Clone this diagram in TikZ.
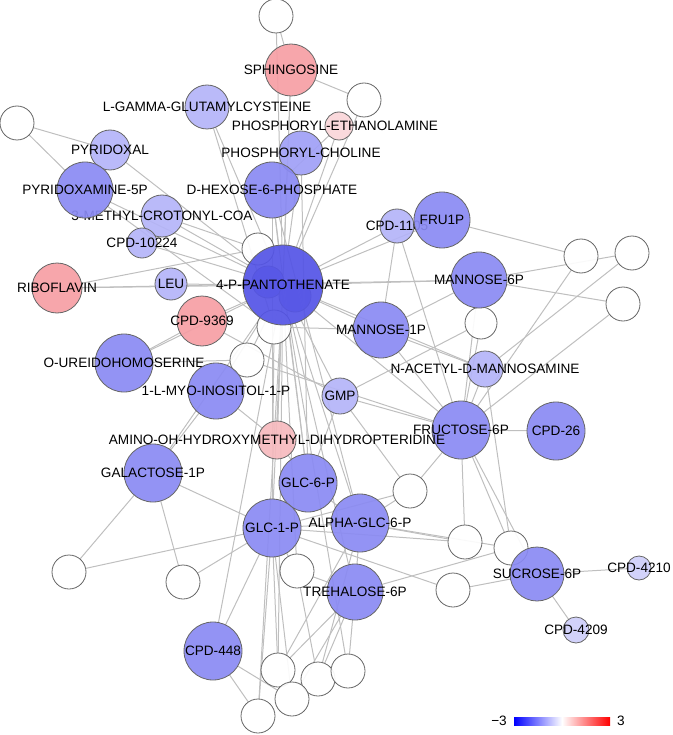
\documentclass[tikz,border=0pt]{standalone}
\usepackage{fontspec}
\setmainfont{Liberation Sans}
\usetikzlibrary{backgrounds}
\definecolor{nstrong}{RGB}{84,84,230}
\definecolor{nblue}{RGB}{138,138,243}
\definecolor{nmid}{RGB}{160,160,246}
\definecolor{nlight}{RGB}{180,180,248}
\definecolor{npale}{RGB}{206,206,250}
\definecolor{nred}{RGB}{246,158,164}
\definecolor{npink}{RGB}{246,186,190}
\definecolor{nblush}{RGB}{250,214,217}

\begin{document}
\begin{tikzpicture}[x=1pt,y=-1pt,
  met/.style={circle,draw=black!60,line width=0.8pt,fill=#1,fill opacity=0.92,inner sep=0pt,outer sep=0pt},
  lbl/.style={font=\fontsize{13.6}{16}\selectfont,text=black,text opacity=1,inner sep=0pt},
  link/.style={draw=black!25,line width=1pt}]
\useasboundingbox (0,0) rectangle (672,735);

% top
\node[met=white,minimum size=34pt] (wtop) at (276,16) {};
\node[met=nred,minimum size=52pt,label={[lbl]center:SPHINGOSINE}] (sphingosine) at (291,70) {};
\node[met=white,minimum size=34pt] (wsph) at (364,100) {};
\node[met=nlight,minimum size=44pt,label={[lbl]center:L-GAMMA-GLUTAMYLCYSTEINE}] (lgg) at (207,107) {};
\node[met=nblush,minimum size=28pt] (petha) at (339,126) {};
\node[lbl] (pethatxt) at (335,126) {PHOSPHORYL-ETHANOLAMINE};
\node[met=nmid,minimum size=44pt,label={[lbl]center:PHOSPHORYL-CHOLINE}] (pchol) at (301,153) {};
\node[met=nblue,minimum size=56pt,label={[lbl]center:D-HEXOSE-6-PHOSPHATE}] (dhex) at (272,190) {};

% left
\node[met=white,minimum size=34pt] (wleft) at (17,123) {};
\node[met=nlight,minimum size=40pt,label={[lbl]center:PYRIDOXAL}] (pyridoxal) at (110,150) {};
\node[met=nlight,minimum size=42pt,label={[lbl]center:3-METHYL-CROTONYL-COA}] (mcoa) at (162,216) {};
\node[met=nblue,minimum size=56pt,label={[lbl]center:PYRIDOXAMINE-5P}] (pyrid5p) at (85,190) {};
\node[met=nlight,minimum size=30pt,label={[lbl]center:CPD-10224}] (cpd10224) at (142,243) {};
\node[met=nred,minimum size=50pt,label={[lbl]center:RIBOFLAVIN}] (riboflavin) at (57,288) {};
\node[met=nlight,minimum size=32pt,label={[lbl]center:LEU}] (leu) at (171,284) {};

% centre
\node[met=white,minimum size=32pt] (wpa) at (258,249) {};
\node[met=nblue,minimum size=32pt] (hid1) at (268,282) {};
\node[met=nblue,minimum size=32pt] (hid2) at (295,296) {};
\node[met=white,minimum size=34pt] (wpb) at (274,327) {};
\node[met=nstrong,minimum size=80pt,label={[lbl]center:4-P-PANTOTHENATE}] (pant) at (283,285) {};
\node[met=nred,minimum size=50pt,label={[lbl]center:CPD-9369}] (cpd9369) at (202,321) {};
\node[met=white,minimum size=34pt] (wpc) at (247,360) {};
\node[met=nblue,minimum size=58pt,label={[lbl]center:O-UREIDOHOMOSERINE}] (oureido) at (124,363) {};
\node[met=nblue,minimum size=56pt,label={[lbl]center:1-L-MYO-INOSITOL-1-P}] (inositol) at (216,391) {};
\node[met=nlight,minimum size=36pt,label={[lbl]center:GMP}] (gmp) at (340,396) {};

% right
\node[met=nlight,minimum size=34pt,label={[lbl]center:CPD-1105}] (cpd1105) at (397,226) {};
\node[met=nblue,minimum size=56pt,label={[lbl]center:FRU1P}] (fru1p) at (442,220) {};
\node[met=white,minimum size=34pt] (wr1) at (581,256) {};
\node[met=white,minimum size=34pt] (wr2) at (632,253) {};
\node[met=white,minimum size=34pt] (wr3) at (623,304) {};
\node[met=white,minimum size=32pt] (wm) at (481,323) {};
\node[met=nblue,minimum size=56pt,label={[lbl]center:MANNOSE-6P}] (man6p) at (479,280) {};
\node[met=nblue,minimum size=56pt,label={[lbl]center:MANNOSE-1P}] (man1p) at (381,330) {};
\node[met=nlight,minimum size=36pt,label={[lbl]center:N-ACETYL-D-MANNOSAMINE}] (nacetyl) at (485,369) {};
\node[met=nblue,minimum size=58pt,label={[lbl]center:FRUCTOSE-6P}] (fru6p) at (461,430) {};
\node[met=nblue,minimum size=58pt,label={[lbl]center:CPD-26}] (cpd26) at (556,431) {};

% lower
\node[met=npink,minimum size=38pt,label={[lbl]center:AMINO-OH-HYDROXYMETHYL-DIHYDROPTERIDINE}] (amino) at (277,440) {};
\node[met=nblue,minimum size=58pt,label={[lbl]center:GALACTOSE-1P}] (galactose) at (153,473) {};
\node[met=nblue,minimum size=58pt,label={[lbl]center:GLC-6-P}] (glc6p) at (308,483) {};
\node[met=white,minimum size=34pt] (wg) at (410,491) {};
\node[met=white,minimum size=34pt] (wt) at (297,571) {};
\node[met=nblue,minimum size=58pt,label={[lbl]center:GLC-1-P}] (glc1p) at (272,528) {};
\node[met=nblue,minimum size=58pt,label={[lbl]center:ALPHA-GLC-6-P}] (alpha) at (360,523) {};
\node[met=white,minimum size=34pt] (wll) at (69,572) {};
\node[met=white,minimum size=34pt] (wlm) at (183,582) {};
\node[met=nblue,minimum size=56pt,label={[lbl]center:TREHALOSE-6P}] (trehalose) at (355,592) {};
\node[met=nblue,minimum size=58pt,label={[lbl]center:CPD-448}] (cpd448) at (213,651) {};
\node[met=white,minimum size=34pt] (wb1) at (278,670) {};
\node[met=white,minimum size=34pt] (wb3) at (318,679) {};
\node[met=white,minimum size=34pt] (wb4) at (348,671) {};
\node[met=white,minimum size=34pt] (wb2) at (292,699) {};
\node[met=white,minimum size=34pt] (wb5) at (258,716) {};
\node[met=white,minimum size=34pt] (ws1) at (465,542) {};
\node[met=white,minimum size=34pt] (ws3) at (453,590) {};
\node[met=white,minimum size=34pt] (ws2) at (511,548) {};
\node[met=nblue,minimum size=54pt,label={[lbl]center:SUCROSE-6P}] (sucrose) at (537,574) {};
\node[met=npale,minimum size=24pt,label={[lbl]center:CPD-4210}] (cpd4210) at (639,568) {};
\node[met=npale,minimum size=26pt,label={[lbl]center:CPD-4209}] (cpd4209) at (576,630) {};

% edges
\begin{scope}[on background layer]
\foreach \a/\b in {wtop/sphingosine,wtop/pant,sphingosine/wsph,sphingosine/pant,sphingosine/amino,
  wsph/pant,petha/pant,petha/dhex,lgg/pant,lgg/wpb,pchol/pant,pchol/glc6p,
  dhex/pant,dhex/glc1p,dhex/glc6p,dhex/alpha,pyridoxal/wleft,pyridoxal/pant,wleft/pyrid5p,
  pyrid5p/pant,pyrid5p/wpb,mcoa/pant,mcoa/wpa,cpd10224/pant,riboflavin/pant,riboflavin/wpa,
  riboflavin/man6p,leu/pant,cpd9369/pant,cpd9369/oureido,cpd9369/gmp,oureido/wpc,oureido/pant,
  wpc/pant,wpc/fru6p,inositol/pant,inositol/galactose,inositol/amino,galactose/wll,galactose/wlm,
  galactose/glc1p,galactose/pant,wll/glc1p,wlm/glc1p,cpd448/glc1p,cpd448/pant,cpd448/wb5,
  cpd448/wb2,cpd1105/pant,cpd1105/man1p,cpd1105/fru6p,fru1p/pant,fru1p/wr1,man6p/pant,
  man6p/wr2,man6p/wr3,man6p/wm,man6p/man1p,man6p/fru6p,wr1/fru6p,wr2/nacetyl,wr3/fru6p,
  wm/gmp,wm/fru6p,man1p/pant,man1p/nacetyl,man1p/fru6p,nacetyl/fru6p,nacetyl/ws2,nacetyl/pant,
  fru6p/cpd26,fru6p/gmp,fru6p/pant,fru6p/ws1,fru6p/ws2,fru6p/wg,fru6p/sucrose,gmp/pant,
  gmp/glc6p,gmp/wg,wg/alpha,wg/glc1p,amino/pant,amino/glc6p,glc6p/pant,glc6p/glc1p,glc6p/alpha,
  glc1p/pant,glc1p/alpha,glc1p/wt,glc1p/ws1,glc1p/ws3,glc1p/wb1,glc1p/wb5,glc1p/wb2,
  alpha/pant,alpha/ws1,alpha/ws2,alpha/trehalose,alpha/wb1,alpha/wb3,wt/trehalose,wt/pant,
  wt/wb3,trehalose/pant,trehalose/ws2,trehalose/wb1,trehalose/wb2,trehalose/wb3,trehalose/wb4,
  ws2/sucrose,ws3/sucrose,sucrose/cpd4210,sucrose/cpd4209,pant/wb4,pant/wb1,pant/wb5,
  wpa/pant,wpb/pant,wpb/glc1p,wpb/man1p}
  \draw[link] (\a) -- (\b);
\end{scope}

% colour key
\node[lbl] (kmin) at (499,721) {−3};
\shade[left color=blue,right color=white] (514,717) rectangle (562,725);
\shade[left color=white,right color=red] (562,717) rectangle (610,725);
\node[lbl] (kmax) at (621,721) {3};
\end{tikzpicture}
\end{document}
